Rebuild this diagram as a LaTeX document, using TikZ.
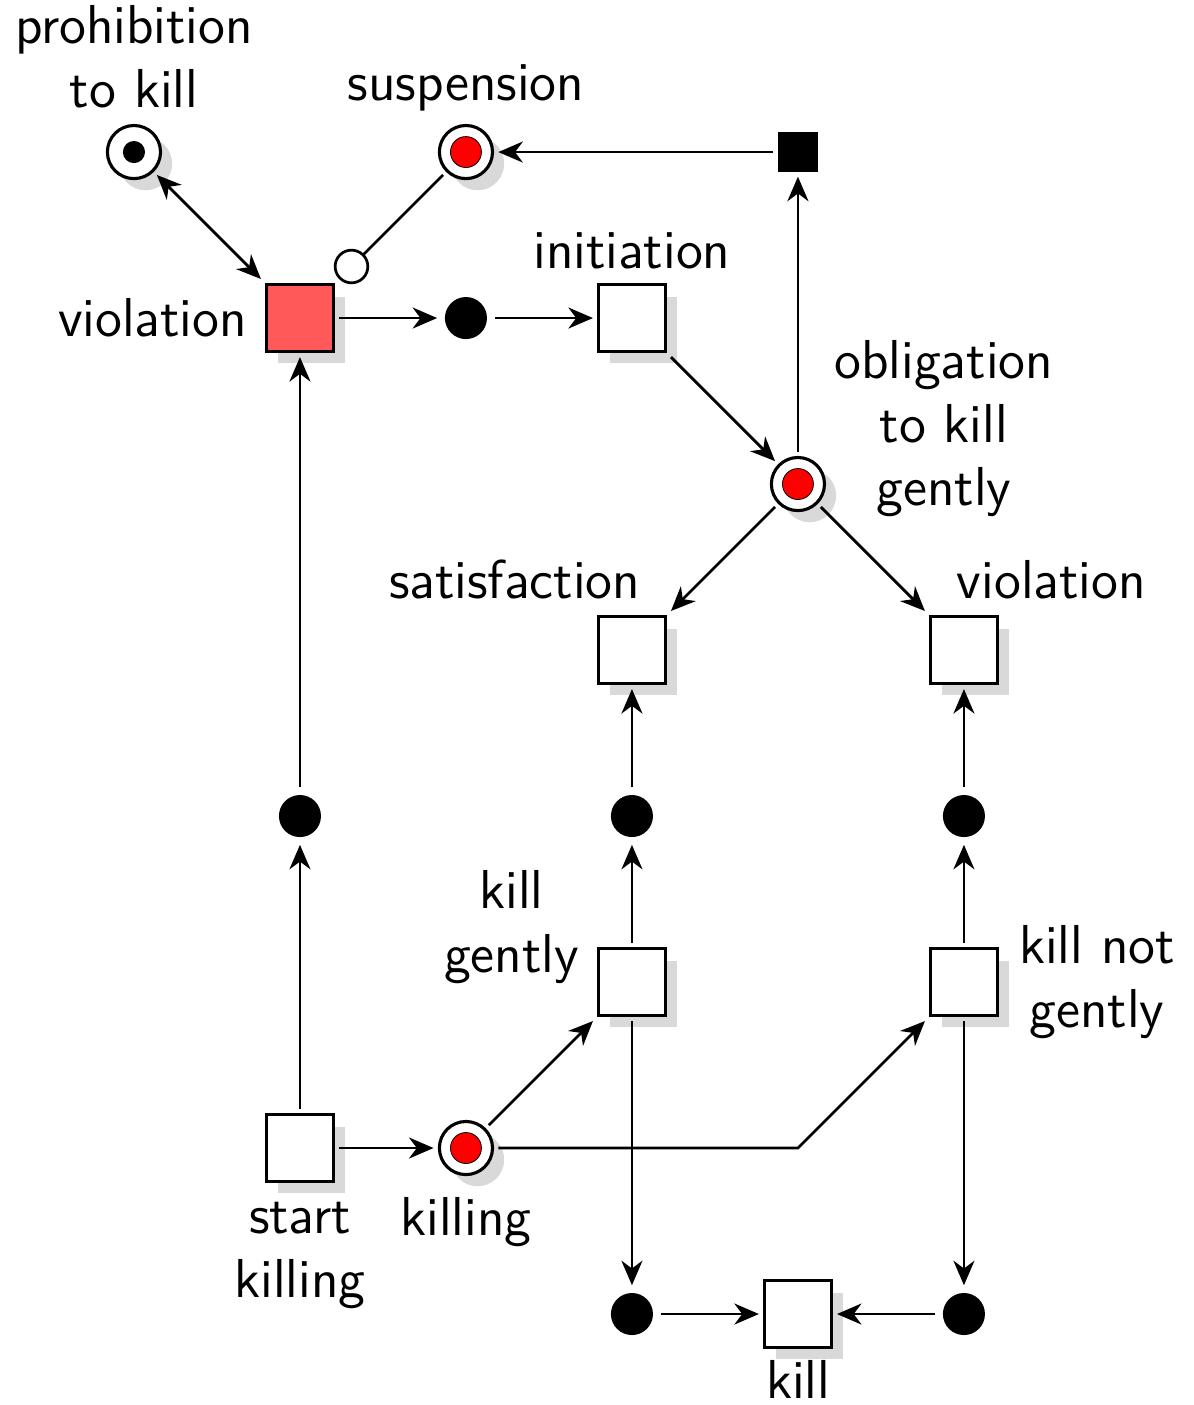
\documentclass[tikz,border=0pt]{standalone}
\usetikzlibrary{shapes,arrows.meta,positioning,calc,shadows}

\begin{document}
\begin{tikzpicture}[x=1.5cm, y=1.5cm,
    >={Stealth[length=6.3pt,width=5.4pt,inset=2pt]},
    grayshadow/.style={drop shadow={shadow xshift=3pt, shadow yshift=-3pt, fill=black!15, opacity=1}},
    trans/.style={draw, line width=0.7pt, rectangle, minimum size=0.6cm, inner sep=0pt, outer sep=1.5pt, fill=white, grayshadow},
    place/.style={draw, circle, line width=0.8pt, minimum size=0.48cm, inner sep=0pt, outer sep=1.5pt, fill=white, grayshadow},
    redtoken/.style={place, path picture={\filldraw[fill=red, draw=black, very thin] (path picture bounding box.center) circle (0.14cm);}},
    blacktoken/.style={place, path picture={\fill[black] (path picture bounding box.center) circle (0.1cm);}},
    blackplace/.style={circle, fill=black, minimum size=0.38cm, inner sep=0pt, outer sep=2pt},
    lbl/.style={font=\sffamily\fontsize{14.1}{16.4}\selectfont, align=center, inner sep=0pt},
    arc/.style={line width=0.7pt, ->}]
  \useasboundingbox (-1.807,-1.548) rectangle (5.380,6.916);

  % places and transitions
  \node[blacktoken] (proh) at (-1,6) {};
  \node[redtoken] (susp) at (1,6) {};
  \node[draw, fill=black, minimum size=0.34cm, inner sep=0pt, outer sep=1.5pt] (stop) at (3,6) {};
  \node[trans, fill=red!65] (viol) at (0,5) {};
  \node[blackplace] (p1) at (1,5) {};
  \node[trans] (init) at (2,5) {};
  \node[redtoken] (obl) at (3,4) {};
  \node[trans] (sat) at (2,3) {};
  \node[trans] (viol2) at (4,3) {};
  \node[blackplace] (p2) at (0,2) {};
  \node[blackplace] (p3) at (2,2) {};
  \node[blackplace] (p4) at (4,2) {};
  \node[trans] (kg) at (2,1) {};
  \node[trans] (kng) at (4,1) {};
  \node[trans] (start) at (0,0) {};
  \node[redtoken] (killing) at (1,0) {};
  \node[blackplace] (p5) at (2,-1) {};
  \node[trans] (kill) at (3,-1) {};
  \node[blackplace] (p6) at (4,-1) {};

  % labels
  \node[lbl, above=0.1cm of proh] (prohtxt) {prohibition\\to kill};
  \node[lbl, above=0.07cm of susp] (susptxt) {suspension};
  \node[lbl, left=0.12cm of viol] (violtxt) {violation};
  \node[lbl, above=0.08cm of init] (inittxt) {initiation};
  \node[lbl, right=0.03cm of obl, yshift=0.5cm] (obltxt) {obligation\\to kill\\gently};
  \node[lbl, above=0.1cm of sat, xshift=-1.06cm] (sattxt) {satisfaction};
  \node[lbl, above=0.1cm of viol2, xshift=0.79cm] (viol2txt) {violation};
  \node[lbl, left=0.12cm of kg, yshift=0.5cm] (kgtxt) {kill\\gently};
  \node[lbl, right=0.14cm of kng] (kngtxt) {kill not\\gently};
  \node[lbl, below=0.13cm of start] (starttxt) {start\\killing};
  \node[lbl, below=0.15cm of killing] (killingtxt) {killing};
  \node[lbl, below=0.06cm of kill] (killtxt) {kill};

  % arcs
  \draw[arc, <->] (proh) -- (viol);
  \draw[line width=0.7pt, -{Circle[open, length=0.32cm]}] (susp) -- (viol);
  \draw[arc] (viol) -- (p1);
  \draw[arc] (p1) -- (init);
  \draw[arc] (init) -- (obl);
  \draw[arc] (obl) -- (stop);
  \draw[arc] (stop) -- (susp);
  \draw[arc] (obl) -- (sat);
  \draw[arc] (obl) -- (viol2);
  \draw[arc] (p3) -- (sat);
  \draw[arc] (p4) -- (viol2);
  \draw[arc] (p2) -- (viol);
  \draw[arc] (start) -- (p2);
  \draw[arc] (start) -- (killing);
  \draw[arc] (killing) -- (kg);
  \draw[arc] (killing) -- (killing -| kill) -- (kng);
  \draw[arc] (kg) -- (p3);
  \draw[arc] (kg) -- (p5);
  \draw[arc] (kng) -- (p4);
  \draw[arc] (kng) -- (p6);
  \draw[arc] (p5) -- (kill);
  \draw[arc] (p6) -- (kill);
\end{tikzpicture}
\end{document}
